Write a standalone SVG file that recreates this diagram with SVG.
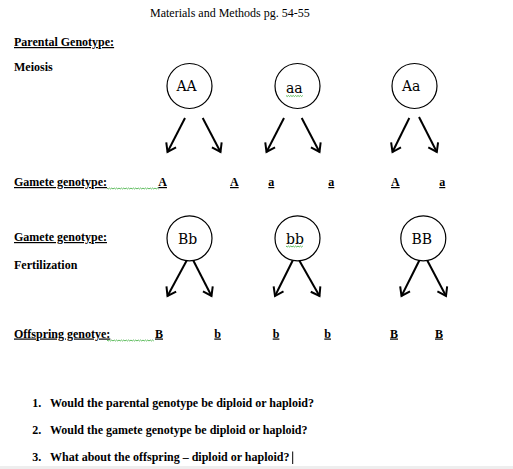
<svg xmlns="http://www.w3.org/2000/svg" width="513" height="469" viewBox="0 0 513 469">
<style>
text{font-family:"Liberation Serif","Times New Roman",serif;fill:#000}
.b{font-weight:bold;font-size:12px}
.u{text-decoration:underline}
.t{font-size:12px}
.c{font-family:"DejaVu Serif","Liberation Serif",serif;font-size:14px}
circle{fill:#fff;stroke:#000;stroke-width:1.2}
.arr{stroke:#000;stroke-width:2;fill:none;marker-end:url(#ah)}
.sq{stroke:#3a3;stroke-width:0.8;fill:none}
</style>
<defs>
<marker id="ah" markerUnits="userSpaceOnUse" viewBox="-10 -7 12 14" markerWidth="12" markerHeight="14" refX="0" refY="0" orient="auto">
<path d="M-8,-5.5 L0,0 L-8,5.5" fill="none" stroke="#000" stroke-width="2"/>
</marker>
</defs>
<rect x="0" y="0" width="513" height="469" fill="#fff"/>
<rect x="0" y="466" width="513" height="3" fill="#eeeeee"/>
<text class="t" x="150" y="17">Materials and Methods pg. 54-55</text>
<text class="b u" x="14" y="46">Parental Genotype:</text>
<text class="b" x="14" y="71">Meiosis</text>

<g id="node-AA"><circle cx="189.5" cy="86" r="22.5"/><text class="c" x="176.5" y="91">AA</text></g>
<g id="node-aa"><circle cx="297.5" cy="86" r="22.5"/><text class="c" x="286" y="93">aa</text>
<path class="sq" d="M286,95.5 l1.2,1 l1.2,-1 l1.2,1 l1.2,-1 l1.2,1 l1.2,-1 l1.2,1 l1.2,-1 l1.2,1 l1.2,-1 l1.2,1 l1.2,-1 l1.2,1 l1.2,-1"/></g>
<g id="node-Aa"><circle cx="414.5" cy="86" r="22.5"/><text class="c" x="402" y="91">Aa</text></g>

<g id="node-Bb"><circle cx="189.5" cy="238.3" r="22.5"/><text class="c" x="178" y="243.5">Bb</text></g>
<g id="node-bb"><circle cx="297.5" cy="238.3" r="22.5"/><text class="c" x="286" y="243.5">bb</text>
<path class="sq" d="M286,246 l1.2,1 l1.2,-1 l1.2,1 l1.2,-1 l1.2,1 l1.2,-1 l1.2,1 l1.2,-1 l1.2,1 l1.2,-1 l1.2,1 l1.2,-1 l1.2,1 l1.2,-1"/></g>
<g id="node-BB"><circle cx="423.3" cy="238.3" r="22.5"/><text class="c" x="411.5" y="243.5">BB</text></g>

<g id="connectors">
<line class="arr" x1="185" y1="118" x2="167.5" y2="152"/>
<line class="arr" x1="202.7" y1="118" x2="220.5" y2="152"/>
<line class="arr" x1="284" y1="118" x2="266.5" y2="152"/>
<line class="arr" x1="301.7" y1="118" x2="319.5" y2="152"/>
<line class="arr" x1="409.3" y1="118" x2="392.5" y2="152"/>
<line class="arr" x1="419" y1="117" x2="436.8" y2="152"/>
<line class="arr" x1="186.7" y1="260.5" x2="167.5" y2="296"/>
<line class="arr" x1="193.3" y1="260.5" x2="211.5" y2="296"/>
<line class="arr" x1="292.7" y1="260.5" x2="275" y2="296"/>
<line class="arr" x1="299.3" y1="260.5" x2="319.5" y2="296"/>
<line class="arr" x1="419.3" y1="260.5" x2="401.5" y2="296"/>
<line class="arr" x1="427.3" y1="260.5" x2="446" y2="296"/>
</g>

<text class="b u" x="14" y="186">Gamete genotype:</text>
<path class="sq" d="M107,188 l1.2,1 l1.2,-1 l1.2,1 l1.2,-1 l1.2,1 l1.2,-1 l1.2,1 l1.2,-1 l1.2,1 l1.2,-1 l1.2,1 l1.2,-1 l1.2,1 l1.2,-1 l1.2,1 l1.2,-1 l1.2,1 l1.2,-1 l1.2,1 l1.2,-1 l1.2,1 l1.2,-1 l1.2,1 l1.2,-1 l1.2,1 l1.2,-1 l1.2,1 l1.2,-1 l1.2,1 l1.2,-1 l1.2,1 l1.2,-1 l1.2,1 l1.2,-1 l1.2,1 l1.2,-1 l1.2,1 l1.2,-1 l1.2,1 l1.2,-1 l1.2,1 l1.2,-1 l1.2,1"/>
<text class="b u" x="158.3" y="186">A</text>
<text class="b u" x="230" y="186">A</text>
<text class="b u" x="268.3" y="186">a</text>
<text class="b u" x="328.3" y="186">a</text>
<text class="b u" x="391" y="186">A</text>
<text class="b u" x="439.3" y="186">a</text>

<text class="b u" x="14" y="241">Gamete genotype:</text>
<text class="b" x="14" y="268.5">Fertilization</text>

<text class="b u" x="14" y="337.5">Offspring genotye:</text>
<path class="sq" d="M107,340 l1.2,1 l1.2,-1 l1.2,1 l1.2,-1 l1.2,1 l1.2,-1 l1.2,1 l1.2,-1 l1.2,1 l1.2,-1 l1.2,1 l1.2,-1 l1.2,1 l1.2,-1 l1.2,1 l1.2,-1 l1.2,1 l1.2,-1 l1.2,1 l1.2,-1 l1.2,1 l1.2,-1 l1.2,1 l1.2,-1 l1.2,1 l1.2,-1 l1.2,1 l1.2,-1 l1.2,1 l1.2,-1 l1.2,1 l1.2,-1 l1.2,1 l1.2,-1 l1.2,1 l1.2,-1 l1.2,1 l1.2,-1 l1.2,1"/>
<text class="b u" x="155" y="337.5">B</text>
<text class="b u" x="214.3" y="337.5">b</text>
<text class="b u" x="272.7" y="337.5">b</text>
<text class="b u" x="324.3" y="337.5">b</text>
<text class="b u" x="390" y="337.5">B</text>
<text class="b u" x="435" y="337.5">B</text>

<text class="b" x="32.3" y="407">1.</text>
<text class="b" x="50" y="407">Would the parental genotype be diploid or haploid?</text>
<text class="b" x="32.3" y="433.5">2.</text>
<text class="b" x="50" y="433.5">Would the gamete genotype be diploid or haploid?</text>
<text class="b" x="32.3" y="461">3.</text>
<text class="b" x="50" y="461">What about the offspring – diploid or haploid?</text>
<line x1="292.7" y1="451.5" x2="292.7" y2="464" stroke="#000" stroke-width="1"/>
</svg>
